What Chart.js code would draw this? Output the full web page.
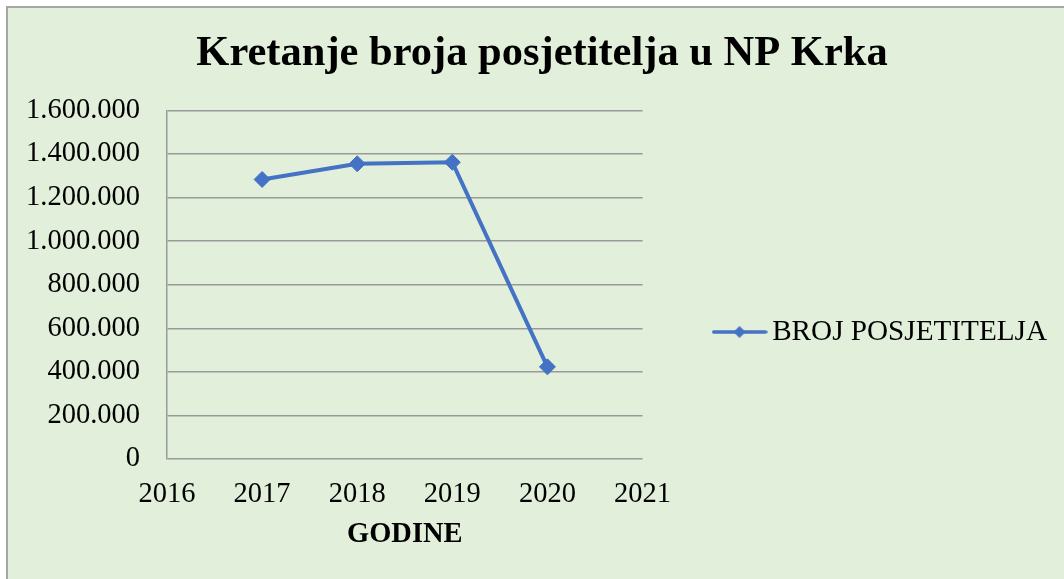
<!DOCTYPE html>
<html lang="hr">
<head>
  <meta charset="UTF-8">
  <title>Kretanje broja posjetitelja u NP Krka</title>
  <script src="https://cdn.jsdelivr.net/npm/chart.js@4.4.1/dist/chart.umd.min.js"></script>
  <style>
    html, body {
      margin: 0;
      padding: 0;
      background: #fff;
      overflow: hidden;
    }
    .okvir {
      position: absolute;
      left: 6px;
      top: 6px;
      border-top: 2px solid #a6a6a6;
      border-left: 2px solid #a6a6a6;
      background: #e2efda;
      width: 1056px;
      height: 648px;
    }
    canvas { display: block; }
  </style>
</head>
<body>
  <div class="okvir">
    <canvas id="grafikon" width="1056" height="648"></canvas>
  </div>

  <script>
    // podaci
    const godine = [2017, 2018, 2019, 2020];
    const posjetitelji = [1283000, 1355000, 1362000, 423000];
    const nazivSerije = 'BROJ POSJETITELJA';
    const naslov = 'Kretanje broja posjetitelja u NP Krka';
    const nazivOsiX = 'GODINE';

    const plava = '#4472c4';
    const siva = '#999999';
    const font = "'Liberation Serif', 'Times New Roman', serif";

    // tisuce s tockom: 1.600.000
    function formatBroj(v) {
      return String(v).replace(/\B(?=(\d{3})+(?!\d))/g, '.');
    }

    // slicica za legendu: crta s rombom
    const ikona = document.createElement('canvas');
    ikona.width = 56;
    ikona.height = 16;
    (function () {
      const c = ikona.getContext('2d');
      c.strokeStyle = plava;
      c.lineWidth = 3.5;
      c.lineCap = 'round';
      c.beginPath();
      c.moveTo(2, 8);
      c.lineTo(54, 8);
      c.stroke();
      c.fillStyle = plava;
      c.beginPath();
      c.moveTo(28 - 6, 8);
      c.lineTo(28, 8 - 6);
      c.lineTo(28 + 6, 8);
      c.lineTo(28, 8 + 6);
      c.closePath();
      c.fill();
    })();

    Chart.defaults.font.family = font;
    Chart.defaults.color = '#000';

    const ctx = document.getElementById('grafikon').getContext('2d');
    const chart = new Chart(ctx, {
      type: 'line',
      data: {
        datasets: [{
          label: nazivSerije,
          data: godine.map((g, i) => ({ x: g, y: posjetitelji[i] })),
          borderColor: plava,
          backgroundColor: plava,
          borderWidth: 4,
          pointStyle: 'rectRot',
          pointRadius: 8,
          pointBorderWidth: 1,
          pointBackgroundColor: plava,
          pointBorderColor: plava,
          tension: 0,
          clip: false
        }]
      },
      options: {
        responsive: false,
        animation: false,
        devicePixelRatio: 1,
        layout: { padding: { left: 19, right: 7, top: 0, bottom: 0 } },
        plugins: {
          title: {
            display: true,
            text: naslov,
            color: '#000',
            font: { size: 42.5, weight: 'bold', family: font },
            padding: { top: 21, bottom: 30.4 }
          },
          legend: {
            display: true,
            position: 'right',
            align: 'center',
            maxWidth: 430,
            labels: {
              usePointStyle: true,
              pointStyleWidth: 36,
              padding: 79,
              color: '#000',
              font: { size: 29.2, family: font },
              generateLabels: function (ch) {
                const items = Chart.defaults.plugins.legend.labels.generateLabels(ch);
                items.forEach(it => { it.pointStyle = ikona; });
                return items;
              }
            }
          },
          tooltip: { enabled: false }
        },
        scales: {
          x: {
            type: 'linear',
            min: 2016,
            max: 2021,
            grid: { display: false, drawTicks: false },
            border: { display: false },
            ticks: {
              stepSize: 1,
              padding: 18,
              font: { size: 28.5, family: font },
              callback: v => String(v)
            },
            title: {
              display: true,
              text: nazivOsiX,
              font: { size: 28.5, weight: 'bold', family: font },
              padding: { top: 8.6, bottom: 104.2 }
            },
            afterFit: s => { s.height = 197; }
          },
          y: {
            min: 0,
            max: 1600000,
            grid: { color: siva, lineWidth: 1.5, drawTicks: false },
            border: { display: true, color: siva, width: 1.5 },
            ticks: {
              stepSize: 200000,
              padding: 27,
              font: { size: 28.5, family: font },
              callback: v => formatBroj(v)
            },
            afterFit: s => { s.width = 140; }
          }
        }
      }
    });
  </script>
</body>
</html>
